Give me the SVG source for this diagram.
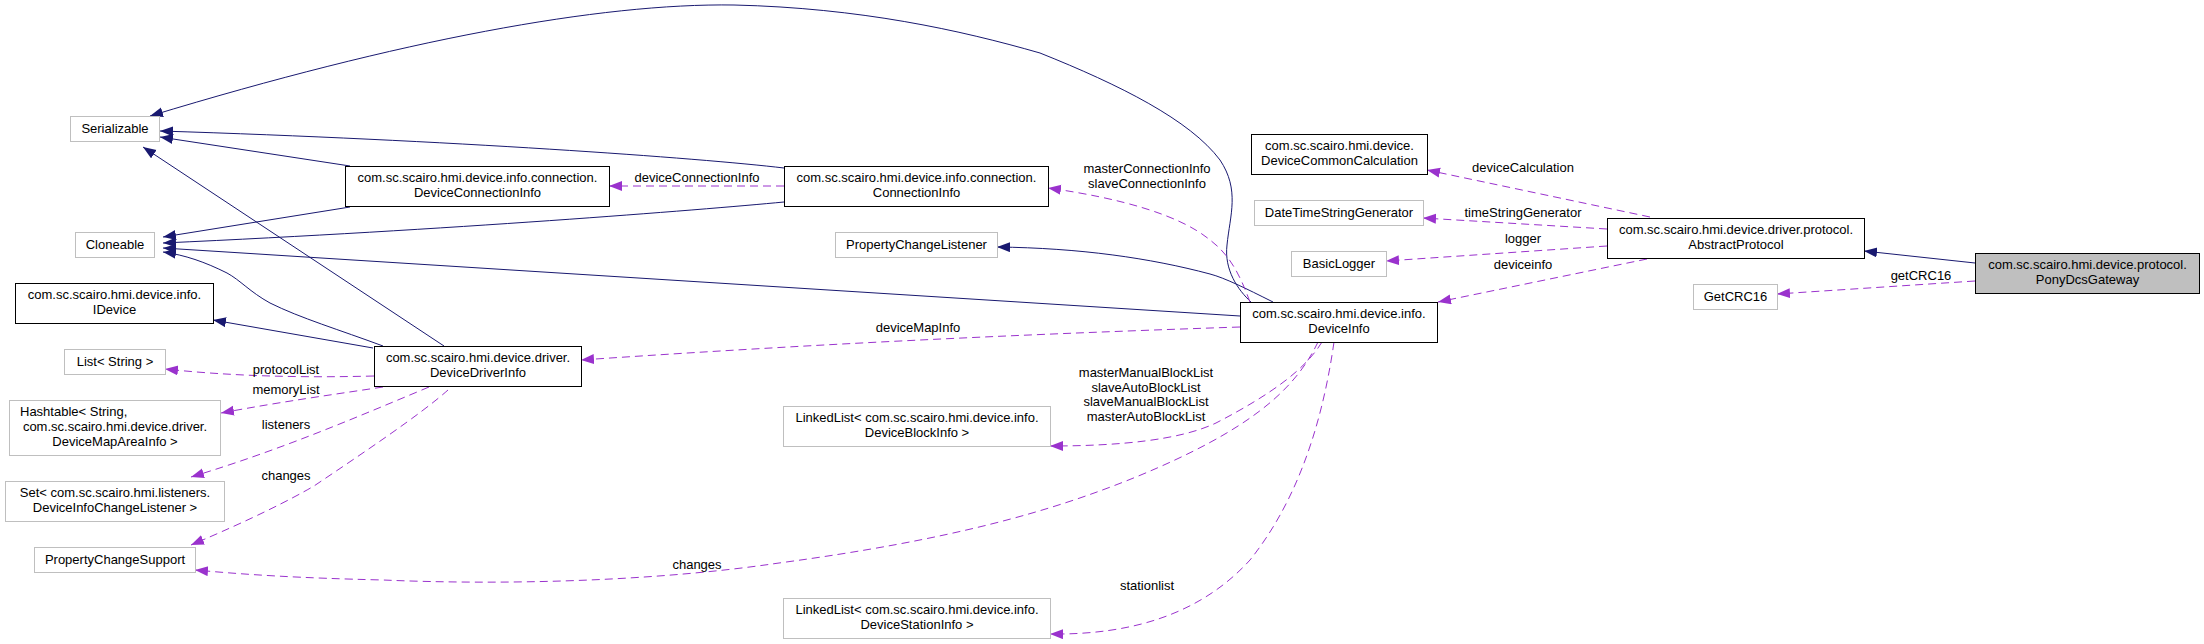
<svg xmlns="http://www.w3.org/2000/svg" width="2204" height="644" viewBox="0 0 2204 644">
<defs>
<marker id="an" markerUnits="userSpaceOnUse" markerWidth="14" markerHeight="12" refX="13" refY="5" orient="auto"><path d="M0,0 L13,5 L0,10 z" fill="#191970" stroke="none"/></marker>
<marker id="ap" markerUnits="userSpaceOnUse" markerWidth="14" markerHeight="12" refX="13" refY="5" orient="auto"><path d="M0,0 L13,5 L0,10 z" fill="#9a32cd" stroke="none"/></marker>
</defs>
<style>
text{font-family:"Liberation Sans",Arial,sans-serif;font-size:13px;fill:#000}
.n text{text-anchor:middle}
.doc{fill:#fff;stroke:#000;stroke-width:1}
.und{fill:#fff;stroke:#bfbfbf;stroke-width:1}
.cur{fill:#bfbfbf;stroke:#000;stroke-width:1}
.inh{fill:none;stroke:#191970;stroke-width:1;marker-end:url(#an)}
.use{fill:none;stroke:#9a32cd;stroke-width:1;stroke-dasharray:8,5;marker-end:url(#ap)}
.lbl{text-anchor:middle}
</style>
<rect width="2204" height="644" fill="#fff"/>
<g id="connectors">
<path class="inh" d="M1251,302 C1238,290 1224,270 1227,245 C1230,215 1240,190 1220,160 C1190,120 1120,85 1040,53 C960,30 860,8 734,5 C600,3 400,40 150,116"/>
<path class="inh" d="M350,166 L160,137"/>
<path class="inh" d="M784,168 C700,158 450,140 160,131"/>
<path class="inh" d="M444,346 L143,147"/>
<path class="inh" d="M350,207 L163,237"/>
<path class="inh" d="M784,202 C700,210 450,230 163,243"/>
<path class="inh" d="M1240,316 L163,248"/>
<path class="inh" d="M383,346 C340,330 300,318 270,303 C250,292 240,280 227,273 C205,262 185,255 163,252"/>
<path class="inh" d="M373,348 L213,320"/>
<path class="inh" d="M1273,302 C1245,288 1225,278 1210,274 C1150,258 1080,248 997,247"/>
<path class="inh" d="M1975,263 L1864,251"/>
<path class="use" d="M784,186 L609,186"/>
<path class="use" d="M1250,302 C1240,275 1230,255 1210,240 C1180,215 1120,198 1048,188"/>
<path class="use" d="M1240,327 C1000,335 800,345 581,360"/>
<path class="use" d="M374,376 C300,378 230,376 165,369"/>
<path class="use" d="M383,387 C330,395 280,402 221,413"/>
<path class="use" d="M429,387 C350,420 280,450 191,477"/>
<path class="use" d="M448,390 C420,415 360,455 314,486 C290,500 250,520 191,545"/>
<path class="use" d="M1318,342 C1295,390 1250,430 1136,477 C1050,512 950,540 779,563 C650,582 500,585 383,580 C300,578 250,575 195,570"/>
<path class="use" d="M1322,342 C1305,370 1270,395 1216,423 C1180,440 1120,446 1050,446"/>
<path class="use" d="M1334,342 C1320,440 1290,510 1250,560 C1200,615 1130,635 1050,634"/>
<path class="use" d="M1650,217 L1427,170"/>
<path class="use" d="M1607,229 L1423,218"/>
<path class="use" d="M1607,246 L1386,261"/>
<path class="use" d="M1647,259 L1438,302"/>
<path class="use" d="M1975,281 L1777,294"/>
<text class="lbl" x="697" y="182">deviceConnectionInfo</text>
<text class="lbl" x="1147" y="173">masterConnectionInfo</text>
<text class="lbl" x="1147" y="188">slaveConnectionInfo</text>
<text class="lbl" x="918" y="332">deviceMapInfo</text>
<text class="lbl" x="286" y="374">protocolList</text>
<text class="lbl" x="286" y="394">memoryList</text>
<text class="lbl" x="286" y="429">listeners</text>
<text class="lbl" x="286" y="480">changes</text>
<text class="lbl" x="697" y="569">changes</text>
<text class="lbl" x="1146" y="377">masterManualBlockList</text>
<text class="lbl" x="1146" y="392">slaveAutoBlockList</text>
<text class="lbl" x="1146" y="406">slaveManualBlockList</text>
<text class="lbl" x="1146" y="421">masterAutoBlockList</text>
<text class="lbl" x="1147" y="590">stationlist</text>
<text class="lbl" x="1523" y="172">deviceCalculation</text>
<text class="lbl" x="1523" y="217">timeStringGenerator</text>
<text class="lbl" x="1523" y="243">logger</text>
<text class="lbl" x="1523" y="269">deviceinfo</text>
<text class="lbl" x="1921" y="280">getCRC16</text>
</g>
<g id="node-serializable" class="n"><rect class="und" x="70.5" y="116.5" width="89" height="25"/><text x="115" y="133">Serializable</text></g>
<g id="node-cloneable" class="n"><rect class="und" x="75.5" y="232.5" width="79" height="25"/><text x="115" y="249">Cloneable</text></g>
<g id="node-idevice" class="n"><rect class="doc" x="15.5" y="283.5" width="198" height="40"/><text x="114.5" y="299">com.sc.scairo.hmi.device.info.</text><text x="114.5" y="314">IDevice</text></g>
<g id="node-list-string" class="n"><rect class="und" x="64.5" y="349.5" width="101" height="25"/><text x="115" y="366">List&lt; String &gt;</text></g>
<g id="node-hashtable" class="n"><rect class="und" x="9.5" y="400.5" width="211" height="55"/><text x="20" y="416" style="text-anchor:start">Hashtable&lt; String,</text><text x="115" y="431">com.sc.scairo.hmi.device.driver.</text><text x="115" y="446">DeviceMapAreaInfo &gt;</text></g>
<g id="node-set" class="n"><rect class="und" x="5.5" y="481.5" width="219" height="40"/><text x="115" y="497">Set&lt; com.sc.scairo.hmi.listeners.</text><text x="115" y="512">DeviceInfoChangeListener &gt;</text></g>
<g id="node-pcs" class="n"><rect class="und" x="34.5" y="547.5" width="161" height="25"/><text x="115" y="564">PropertyChangeSupport</text></g>
<g id="node-deviceconnectioninfo" class="n"><rect class="doc" x="345.5" y="166.5" width="264" height="40"/><text x="477.5" y="182">com.sc.scairo.hmi.device.info.connection.</text><text x="477.5" y="197">DeviceConnectionInfo</text></g>
<g id="node-connectioninfo" class="n"><rect class="doc" x="784.5" y="166.5" width="264" height="40"/><text x="916.5" y="182">com.sc.scairo.hmi.device.info.connection.</text><text x="916.5" y="197">ConnectionInfo</text></g>
<g id="node-pcl" class="n"><rect class="und" x="835.5" y="232.5" width="162" height="25"/><text x="916.5" y="249">PropertyChangeListener</text></g>
<g id="node-devicedriverinfo" class="n"><rect class="doc" x="374.5" y="346.5" width="207" height="40"/><text x="478" y="362">com.sc.scairo.hmi.device.driver.</text><text x="478" y="377">DeviceDriverInfo</text></g>
<g id="node-deviceinfo" class="n"><rect class="doc" x="1240.5" y="302.5" width="197" height="40"/><text x="1339" y="318">com.sc.scairo.hmi.device.info.</text><text x="1339" y="333">DeviceInfo</text></g>
<g id="node-ll-block" class="n"><rect class="und" x="783.5" y="406.5" width="267" height="40"/><text x="917" y="422">LinkedList&lt; com.sc.scairo.hmi.device.info.</text><text x="917" y="437">DeviceBlockInfo &gt;</text></g>
<g id="node-ll-station" class="n"><rect class="und" x="783.5" y="598.5" width="267" height="40"/><text x="917" y="614">LinkedList&lt; com.sc.scairo.hmi.device.info.</text><text x="917" y="629">DeviceStationInfo &gt;</text></g>
<g id="node-dcc" class="n"><rect class="doc" x="1251.5" y="134.5" width="176" height="40"/><text x="1339.5" y="150">com.sc.scairo.hmi.device.</text><text x="1339.5" y="165">DeviceCommonCalculation</text></g>
<g id="node-datetime" class="n"><rect class="und" x="1254.5" y="200.5" width="169" height="25"/><text x="1339" y="217">DateTimeStringGenerator</text></g>
<g id="node-basiclogger" class="n"><rect class="und" x="1291.5" y="251.5" width="95" height="25"/><text x="1339" y="268">BasicLogger</text></g>
<g id="node-abstractprotocol" class="n"><rect class="doc" x="1607.5" y="218.5" width="257" height="40"/><text x="1736" y="234">com.sc.scairo.hmi.device.driver.protocol.</text><text x="1736" y="249">AbstractProtocol</text></g>
<g id="node-getcrc16" class="n"><rect class="und" x="1693.5" y="284.5" width="84" height="25"/><text x="1735.5" y="301">GetCRC16</text></g>
<g id="node-ponydcsgateway" class="n"><rect class="cur" x="1975.5" y="253.5" width="224" height="40"/><text x="2087.5" y="269">com.sc.scairo.hmi.device.protocol.</text><text x="2087.5" y="284">PonyDcsGateway</text></g>
</svg>
